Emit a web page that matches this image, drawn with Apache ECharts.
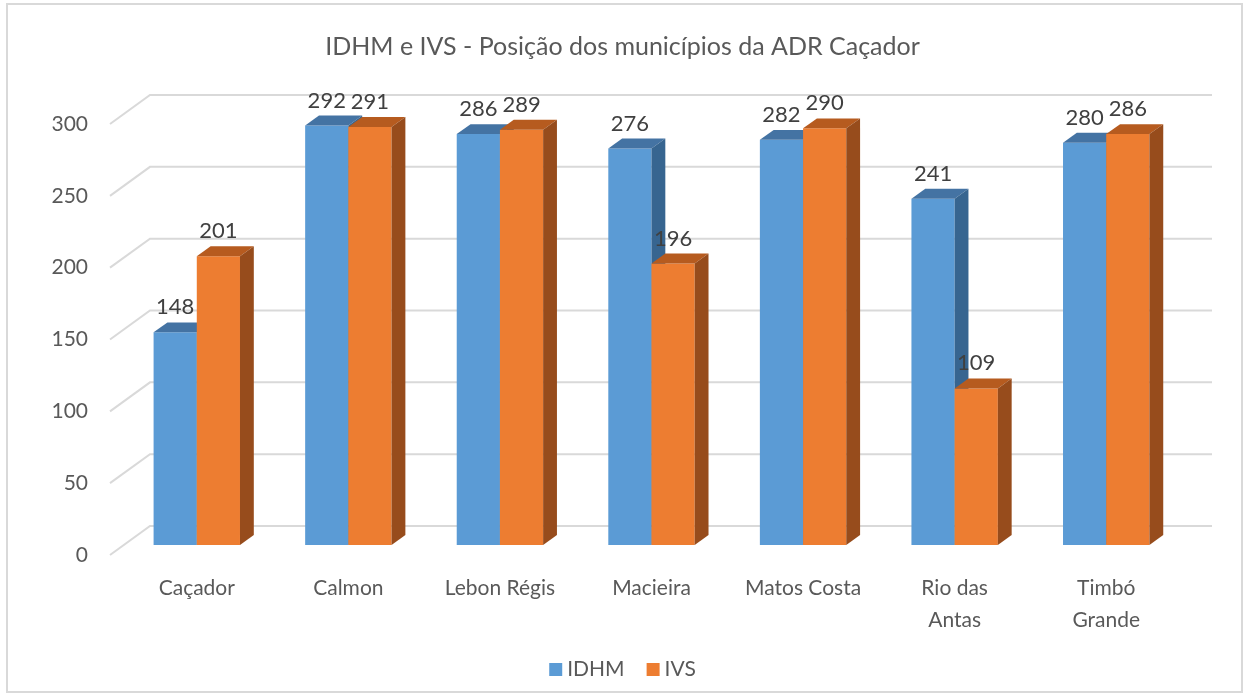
<!DOCTYPE html>
<html>
<head>
<meta charset="utf-8">
<script src="https://cdn.jsdelivr.net/npm/echarts@6/dist/echarts.min.js"></script>
<style>
  html, body { margin: 0; padding: 0; background: #fff; }
  #main { width: 1245px; height: 695px; }
</style>
</head>
<body>
<div id="main"></div>
<script>
// dados
var municipios = ['Caçador', 'Calmon', 'Lebon Régis', 'Macieira', 'Matos Costa', 'Rio das\nAntas', 'Timbó\nGrande'];
var idhm = [148, 292, 286, 276, 282, 241, 280];
var ivs = [201, 291, 289, 196, 290, 109, 286];
var ticks = [0, 50, 100, 150, 200, 250, 300];

var fonte = 'Lato, "Open Sans", sans-serif';
var chart = echarts.init(document.getElementById('main'));

// barra 3D: frente, topo e lateral
function barra3d(shift, cor, corTopo, corLado) {
    return function (params, api) {
        var idx = api.value(0), val = api.value(1);
        var base = api.coord([idx, 0]);
        var topo = api.coord([idx, val]);
        var bw = api.size([1, 0])[0] * 0.285;
        var x0 = base[0] + shift * bw;
        var dx = bw * 0.32, dy = bw * 0.23;
        var yt = topo[1], yb = base[1];
        return {
            type: 'group',
            children: [
                { type: 'rect', shape: { x: x0, y: yt, width: bw, height: yb - yt }, style: { fill: cor } },
                { type: 'polygon', shape: { points: [[x0, yt], [x0 + dx, yt - dy], [x0 + bw + dx, yt - dy], [x0 + bw, yt]] }, style: { fill: corTopo } },
                { type: 'polygon', shape: { points: [[x0 + bw, yt], [x0 + bw + dx, yt - dy], [x0 + bw + dx, yb - dy], [x0 + bw, yb]] }, style: { fill: corLado } },
                { type: 'text', x: x0 + bw / 2, y: yt - 25, style: { text: String(val), fill: '#404040', font: '22px ' + fonte, align: 'center', verticalAlign: 'middle' } }
            ]
        };
    };
}

function pares(arr) {
    return arr.map(function (v, i) { return [i, v]; });
}

var option = {
    backgroundColor: '#fff',
    animation: false,
    title: {
        text: 'IDHM e IVS - Posição dos municípios da ADR Caçador',
        left: 'center',
        top: 29,
        textStyle: { color: '#595959', fontSize: 25, fontWeight: 'normal', fontFamily: fonte }
    },
    legend: {
        data: ['IDHM', 'IVS'],
        left: 'center',
        top: 654,
        icon: 'rect',
        itemWidth: 13,
        itemHeight: 13,
        itemGap: 22,
        textStyle: { color: '#595959', fontSize: 21, fontFamily: fonte }
    },
    graphic: [{
        type: 'rect',
        shape: { x: 7, y: 4, width: 1235, height: 688 },
        style: { fill: 'none', stroke: '#d9d9d9', lineWidth: 2 },
        silent: true
    }],
    grid: [
        { left: 121, right: 63, top: 114, bottom: 150 },
        { left: 121, right: 63, top: 124, bottom: 140 }
    ],
    xAxis: [
        {
            type: 'category', gridIndex: 0, data: municipios,
            axisLine: { show: false }, axisTick: { show: false },
            axisLabel: { interval: 0, margin: 27, color: '#595959', fontSize: 21, fontFamily: fonte, lineHeight: 32 }
        },
        { type: 'value', gridIndex: 1, show: false }
    ],
    yAxis: [
        { type: 'value', gridIndex: 0, min: 0, max: 300, interval: 50, show: false },
        {
            type: 'value', gridIndex: 1, min: 0, max: 300, interval: 50,
            axisLine: { show: false }, axisTick: { show: false }, splitLine: { show: false },
            axisLabel: { margin: 33, color: '#595959', fontSize: 21, fontFamily: fonte }
        }
    ],
    series: [
        {
            type: 'custom', name: 'grade', xAxisIndex: 0, yAxisIndex: 0, z: 1, silent: true,
            data: ticks.map(function (t) { return [0, t]; }),
            renderItem: function (params, api) {
                var y = api.coord([0, api.value(1)])[1];
                var cs = params.coordSys;
                var x0 = cs.x, x1 = cs.x + cs.width;
                return {
                    type: 'polyline',
                    shape: { points: [[x0 - 11, y + 10], [x0 + 29, y - 19], [x1 + 30, y - 19]] },
                    style: { stroke: '#d9d9d9', lineWidth: 2, fill: null }
                };
            }
        },
        {
            type: 'custom', name: 'IDHM', xAxisIndex: 0, yAxisIndex: 0, z: 2,
            itemStyle: { color: '#5b9bd5' },
            data: pares(idhm),
            renderItem: barra3d(-1, '#5b9bd5', '#4473a3', '#376590')
        },
        {
            type: 'custom', name: 'IVS', xAxisIndex: 0, yAxisIndex: 0, z: 3,
            itemStyle: { color: '#ed7d31' },
            data: pares(ivs),
            renderItem: barra3d(0, '#ed7d31', '#b65b1f', '#974c1c')
        }
    ]
};
chart.setOption(option);
</script>
</body>
</html>
